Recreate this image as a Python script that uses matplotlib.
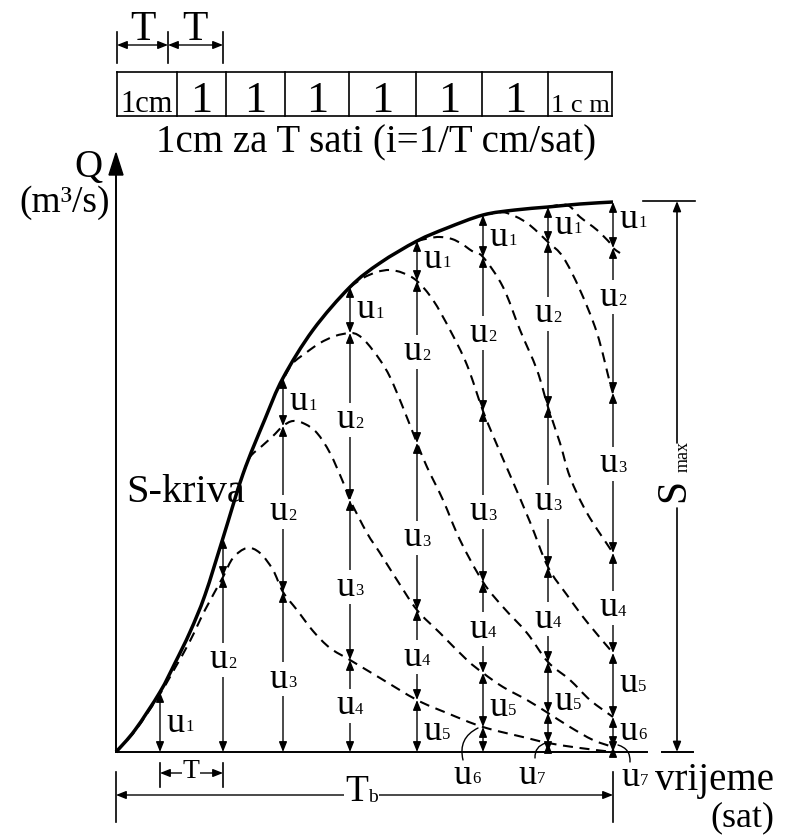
import matplotlib.pyplot as plt
from matplotlib.path import Path
from matplotlib.patches import PathPatch, FancyArrowPatch, Polygon
import numpy as np

plt.rcParams['font.family'] = ['Liberation Serif', 'DejaVu Serif']

# S-kriva (drawing units, origin at the foot of the Q axis)
s_x = [0, 19, 44, 59, 74, 89, 107, 127, 149, 167, 197, 234, 264, 301, 331, 367, 399, 432, 464, 497]
s_y = [0, 22, 60, 89, 120, 157, 214, 278, 333, 374, 422, 465, 489, 511, 524, 537, 542, 545, 548, 550]

# zbrojeni pomaknuti jedinicni hidrogrami (isprekidane krivulje)
a_x = [0, 19, 44, 59, 74, 89, 107, 117, 131, 144, 157, 167, 181, 197, 214, 234, 264, 301, 331, 367, 411, 432, 464, 497]
a_y = [0, 21, 58, 84, 111, 142, 175, 194, 204, 199, 182, 160, 142, 121, 104, 92, 74, 52, 39, 25, 14, 9, 4, 0]
b_x = [127, 134, 146, 157, 167, 177, 189, 201, 214, 227, 234, 251, 264, 281, 301, 324, 351, 367, 387, 411, 432, 454, 477, 497]
b_y = [278, 295, 306, 316, 326, 331, 328, 319, 299, 270, 252, 219, 199, 172, 142, 119, 92, 79, 65, 52, 39, 25, 12, 5]
c_x = [169, 177, 191, 204, 219, 234, 242, 251, 264, 274, 286, 301, 311, 327, 344, 367, 387, 411, 432, 454, 474, 497]
c_y = [376, 389, 400, 409, 416, 419, 417, 409, 392, 375, 347, 309, 285, 252, 212, 170, 145, 119, 90, 72, 52, 35]
d_x = [234, 247, 261, 274, 287, 301, 317, 334, 351, 367, 381, 394, 414, 432, 451, 471, 497]
d_y = [465, 474, 480, 482, 479, 471, 452, 422, 387, 341, 307, 277, 230, 185, 157, 130, 99]
e_x = [301, 314, 324, 336, 346, 356, 367, 387, 404, 421, 432, 444, 454, 471, 497]
e_y = [511, 514, 515, 513, 508, 501, 495, 465, 422, 382, 345, 309, 275, 239, 199]
f_x = [367, 379, 391, 411, 432, 447, 464, 481, 494, 497]
f_y = [537, 539, 539, 529, 510, 495, 462, 419, 369, 359]
g_x = [432, 451, 464, 481, 494, 497, 504]
g_y = [545, 547, 535, 522, 509, 504, 499]

# vertikale i ordinate na njima
vert_x = [44, 107, 167, 234, 301, 367, 432, 497]
ordinates = [
    [0, 60],
    [0, 175, 214],
    [0, 160, 326, 374],
    [0, 92, 252, 419, 465],
    [0, 52, 142, 309, 471, 511],
    [0, 25, 79, 170, 341, 495, 537],
    [0, 9, 39, 90, 185, 345, 510, 545],
    [0, 5, 35, 99, 199, 359, 504, 550],
]
# (vertikala, indeks u, y, polozaj)
u_labels = [
    (0, 1, 29, 'R'),
    (1, 2, 92, 'on'),
    (2, 1, 350, 'R'), (2, 2, 240, 'on'), (2, 3, 73, 'on'),
    (3, 1, 442, 'R'), (3, 2, 332, 'on'), (3, 3, 165, 'on'), (3, 4, 46, 'on'),
    (4, 1, 493, 'R'), (4, 2, 400, 'on'), (4, 3, 214, 'on'), (4, 4, 95, 'on'), (4, 5, 21, 'R'),
    (5, 1, 515, 'R'), (5, 2, 419, 'on'), (5, 3, 240, 'on'), (5, 4, 123, 'on'), (5, 5, 45, 'R'),
    (6, 1, 527, 'R'), (6, 2, 438, 'on'), (6, 3, 250, 'on'), (6, 4, 133, 'on'), (6, 5, 51, 'R'),
    (7, 1, 533, 'R'), (7, 2, 455, 'on'), (7, 3, 288, 'on'), (7, 4, 144, 'on'), (7, 5, 69, 'R'), (7, 6, 21, 'R'),
]
below_labels = [(351, -23, 6), (416, -23, 7), (519, -25, 7)]
leaders = [((347, -8), (362, 24), -0.4), ((419, -6), (430, 9), -0.4), ((514, -10), (502, 7), 0.4)]

# traka oborine na vrhu
strip_edges = [1, 61, 110, 169, 233, 300, 366, 432, 496]
strip_text = ['1cm', '1', '1', '1', '1', '1', '1', '1 c m']
strip_size = [22, 32, 32, 32, 32, 32, 32, 19]

fig = plt.figure(figsize=(7.86, 8.35), dpi=100)
ax = fig.add_axes([0, 0, 1, 1])
ax.set_xlim(-116, 670)
ax.set_ylim(-83, 752)
ax.axis('off')


def smooth(xs, ys):
    # Catmull-Rom kroz tocke, zapisano kao kubni Bezier
    p = np.column_stack([xs, ys]).astype(float)
    ext = np.vstack([p[0], p, p[-1]])
    verts = [p[0]]
    codes = [Path.MOVETO]
    for i in range(len(p) - 1):
        p0, p1, p2, p3 = ext[i], ext[i + 1], ext[i + 2], ext[i + 3]
        verts += [p1 + (p2 - p0) / 6, p2 - (p3 - p1) / 6, p2]
        codes += [Path.CURVE4] * 3
    return Path(verts, codes)


def arrow(x0, y0, x1, y1, lw=1.0, style='<|-|>'):
    ax.add_patch(FancyArrowPatch((x0, y0), (x1, y1),
                                 arrowstyle=style + ',head_length=0.5,head_width=0.2',
                                 mutation_scale=12, lw=lw, color='black',
                                 shrinkA=0, shrinkB=0, zorder=3))


def u_label(x, y, k, side):
    if side == 'R':
        ux, kx, ha, bbox = 5, 18, 'left', None
    else:
        ux, kx, ha = -3, 3.5, 'center'
        bbox = dict(fc='white', ec='none', pad=0.5) if side == 'on' else None
    ax.annotate('u', (x, y), xytext=(ux, 0), textcoords='offset points',
                ha=ha, va='center', fontsize=26, bbox=bbox, zorder=5)
    ax.annotate(str(k), (x, y), xytext=(kx, -6), textcoords='offset points',
                ha='left', va='baseline', fontsize=12, zorder=5)


# osi
ax.plot([0, 0], [0, 580], color='black', lw=1.4)
ax.add_patch(Polygon([(-7, 577), (7, 577), (0, 599)], closed=True, color='black'))
ax.plot([0, 531], [0, 0], color='black', lw=1.4)
ax.plot([546, 577], [0, 0], color='black', lw=1.4)
ax.text(-28, 575, 'Q', fontsize=28, ha='center', va='baseline')
ax.text(-51, 540, '(m³/s)', fontsize=27, ha='center', va='baseline')
ax.text(539, -38, 'vrijeme', fontsize=28, ha='left', va='baseline')
ax.text(626, -74, '(sat)', fontsize=26, ha='center', va='baseline')

# krivulje
ax.add_patch(PathPatch(smooth(s_x, s_y), fill=False, lw=2.5, color='black', zorder=4))
for cx, cy in [(a_x, a_y), (b_x, b_y), (c_x, c_y), (d_x, d_y),
               (e_x, e_y), (f_x, f_y), (g_x, g_y)]:
    ax.add_patch(PathPatch(smooth(cx, cy), fill=False, lw=1.5, color='black',
                           linestyle=(0, (4.8, 3.2)), zorder=2))
ax.text(70, 250, 'S-kriva', fontsize=29, ha='center', va='baseline')

# ordinate
for x, lv in zip(vert_x, ordinates):
    for lo, hi in zip(lv[:-1], lv[1:]):
        arrow(x, lo, x, hi)
for i, k, y, side in u_labels:
    u_label(vert_x[i], y, k, side)
for x, y, k in below_labels:
    u_label(x, y, k, 'c')
for p0, p1, rad in leaders:
    ax.annotate('', xy=p1, xytext=p0,
                arrowprops=dict(arrowstyle='-', lw=1.0, color='black',
                                connectionstyle=f'arc3,rad={rad}', shrinkA=0, shrinkB=0))

# Smax, linija prekinuta oznakom
arrow(561, 244, 561, 0, lw=1.2, style='-|>')
arrow(561, 309, 561, 551, lw=1.2, style='-|>')
ax.plot([527, 579], [551, 551], color='black', lw=1.2)
ax.text(558, 262, 'S', rotation=90, fontsize=30, ha='center', va='center')
ax.text(567, 295, 'max', rotation=90, fontsize=13, ha='center', va='center')

# T i Tb ispod osi
for x in vert_x[:2]:
    ax.plot([x, x], [-11, -35], color='black', lw=1.2)
arrow(vert_x[0], -21, vert_x[1], -21)
ax.text(75, -20, 'T', fontsize=20, ha='center', va='center',
        bbox=dict(fc='white', ec='none', pad=0.5), zorder=5)
for x in [0, vert_x[-1]]:
    ax.plot([x, x], [-20, -70], color='black', lw=1.2)
arrow(0, -43, vert_x[-1], -43)
ax.text(241, -40, 'T', fontsize=27, ha='center', va='center',
        bbox=dict(fc='white', ec='none', pad=1), zorder=5)
ax.text(257, -46, 'b', fontsize=14, ha='center', va='center',
        bbox=dict(fc='white', ec='none', pad=1), zorder=5)

# traka na vrhu
ax.plot([strip_edges[0], strip_edges[-1]], [680, 680], color='black', lw=1.2)
ax.plot([strip_edges[0], strip_edges[-1]], [636, 636], color='black', lw=1.2)
for x in strip_edges:
    ax.plot([x, x], [636, 680], color='black', lw=1.2)
for x0, x1, s, fs in zip(strip_edges[:-1], strip_edges[1:], strip_text, strip_size):
    ax.text((x0 + x1) / 2, 640, s, fontsize=fs, ha='center', va='baseline')
ax.text(260, 600, '1cm za T sati (i=1/T cm/sat)', fontsize=28, ha='center', va='baseline')

# T mjere iznad trake
for x in [1, 52, 107]:
    ax.plot([x, x], [689, 720], color='black', lw=1.2)
arrow(1, 707, 52, 707)
arrow(52, 707, 107, 707)
ax.text(27, 712, 'T', fontsize=30, ha='center', va='baseline')
ax.text(79, 712, 'T', fontsize=30, ha='center', va='baseline')

fig.savefig('out.png', dpi=100)
